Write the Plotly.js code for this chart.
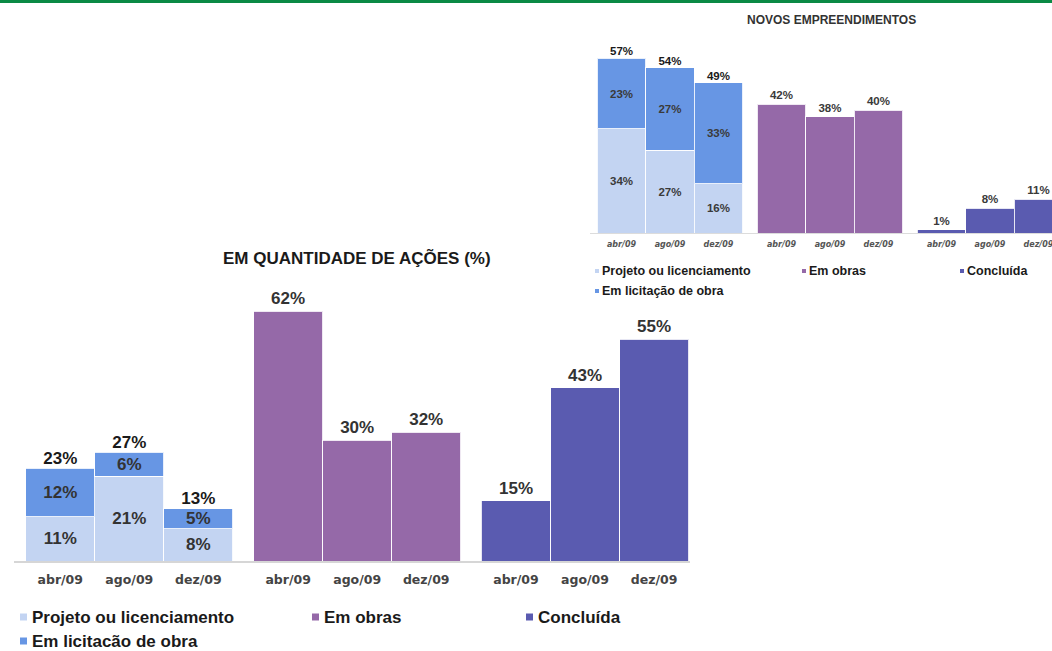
<!DOCTYPE html>
<html>
<head>
<meta charset="utf-8">
<script src="https://cdn.plot.ly/plotly-3.0.1.min.js"></script>
<style>html,body{margin:0;padding:0;background:#fff;}#chart{width:1052px;height:651px;}</style>
</head>
<body>
<div id="chart"></div>
<script>
// ---------- data ----------
var months = ["abr/09", "ago/09", "dez/09"];
var seriesNames = ["Projeto ou licenciamento", "Em obras", "Concluída", "Em licitacão de obra"];
var seriesNamesInset = ["Projeto ou licenciamento", "Em obras", "Concluída", "Em licitação de obra"];

// Main chart: EM QUANTIDADE DE AÇÕES (%)
var projetoMain = [11, 21, 8];
var licitacaoMain = [12, 6, 5];
var obrasMain = [62, 30, 32];
var concluidaMain = [15, 43, 55];

// Inset chart: NOVOS EMPREENDIMENTOS
var projetoInset = [34, 27, 16];
var licitacaoInset = [23, 27, 33];
var obrasInset = [42, 38, 40];
var concluidaInset = [1, 8, 11];

var titleMain = "EM QUANTIDADE DE AÇÕES (%)";
var titleInset = "NOVOS EMPREENDIMENTOS";

// ---------- styling ----------
var W = 1052, H = 651;
var C = {projeto: "#c3d4f2", licitacao: "#6796e4", obras: "#9569a8", concluida: "#5a5bb0"};
var GROUP_STEP = 3.3;
function px(x) { return x / W; }
function py(y) { return 1 - y / H; }
function pos(g) { return months.map(function (m, i) { return g * GROUP_STEP + i; }); }
function pct(arr) { return arr.map(function (v) { return v + "%"; }); }
function sum(a, b) { return a.map(function (v, i) { return v + b[i]; }); }

var allTickVals = pos(0).concat(pos(1), pos(2));
var allTickText = months.concat(months, months);

function makeTraces(xa, ya, proj, lic, obras, concl, fs, txtColor) {
  var barLine = {color: "rgba(255,255,255,0.85)", width: 1};
  var inFont = {family: "Liberation Sans, Arial, sans-serif", size: fs, color: txtColor, weight: 700};
  return [
    {type: "bar", x: pos(0), y: proj, width: 1, xaxis: xa, yaxis: ya,
     marker: {color: C.projeto, line: barLine}, text: pct(proj), textposition: "inside",
     insidetextanchor: "middle", constraintext: "none", textfont: inFont, hoverinfo: "skip"},
    {type: "bar", x: pos(0), y: lic, width: 1, xaxis: xa, yaxis: ya,
     marker: {color: C.licitacao, line: barLine}, text: pct(lic), textposition: "inside",
     insidetextanchor: "middle", constraintext: "none", textfont: inFont, hoverinfo: "skip"},
    {type: "bar", x: pos(1), y: obras, width: 1, xaxis: xa, yaxis: ya,
     marker: {color: C.obras, line: barLine}, text: pct(obras), textposition: "outside",
     constraintext: "none", cliponaxis: false, textfont: inFont, hoverinfo: "skip"},
    {type: "bar", x: pos(2), y: concl, width: 1, xaxis: xa, yaxis: ya,
     marker: {color: C.concluida, line: barLine}, text: pct(concl), textposition: "outside",
     constraintext: "none", cliponaxis: true, textfont: inFont, hoverinfo: "skip"},
    {type: "scatter", mode: "text", x: pos(0), y: sum(proj, lic), xaxis: xa, yaxis: ya,
     text: pct(sum(proj, lic)), textposition: "top center", cliponaxis: false,
     textfont: {family: "Liberation Sans, Arial, sans-serif", size: fs, color: "#1a1a1a", weight: 700},
     hoverinfo: "skip"}
  ];
}

var data = makeTraces("x", "y", projetoMain, licitacaoMain, obrasMain, concluidaMain, 17, "#333333")
  .concat(makeTraces("x2", "y2", projetoInset, licitacaoInset, obrasInset, concluidaInset, 11.5, "#3a3a3a"));

var legendColors = [C.projeto, C.obras, C.concluida, C.licitacao];
var shapes = [
  {type: "rect", xref: "paper", yref: "paper", x0: 0, x1: 1, y0: py(3), y1: 1,
   fillcolor: "#0b8a45", line: {width: 0}}
];
var annotations = [
  {xref: "paper", yref: "paper", x: px(357), y: py(258), xanchor: "center", yanchor: "middle",
   showarrow: false, text: titleMain,
   font: {family: "Liberation Sans, Arial, sans-serif", size: 17, color: "#1a1a1a", weight: 700}},
  {xref: "paper", yref: "paper", x: px(831), y: py(20), xanchor: "center", yanchor: "middle",
   showarrow: false, text: titleInset,
   font: {family: "Liberation Sans, Arial, sans-serif", size: 12, color: "#333", weight: 700}}
];

function addLegend(names, slots, msize, fsize) {
  names.forEach(function (n, i) {
    var s = slots[i];
    shapes.push({type: "rect", xref: "paper", yref: "paper",
      x0: px(s[0]), x1: px(s[0] + msize), y0: py(s[2] + msize / 2), y1: py(s[2] - msize / 2),
      fillcolor: legendColors[i], line: {width: 0}});
    annotations.push({xref: "paper", yref: "paper", x: px(s[1]), y: py(s[2]),
      xanchor: "left", yanchor: "middle", showarrow: false, text: n,
      font: {family: "Liberation Sans, Arial, sans-serif", size: fsize, color: "#1a1a1a", weight: 700}});
  });
}
// [markerX, textX, centerY]
addLegend(seriesNames, [[20, 30, 617], [312, 322, 617], [526, 536, 617], [20, 30, 641]], 7, 17);
addLegend(seriesNamesInset, [[595, 600, 271], [802, 807, 271], [960, 965, 271], [595, 600, 291]], 4, 12.5);

var layout = {
  width: W, height: H,
  margin: {l: 0, r: 0, t: 0, b: 0},
  paper_bgcolor: "#ffffff", plot_bgcolor: "rgba(0,0,0,0)",
  showlegend: false, barmode: "stack", bargap: 0,
  xaxis: {domain: [px(14), px(690)], range: [-0.67, 9.12], anchor: "y",
    tickmode: "array", tickvals: allTickVals, ticktext: allTickText,
    showline: true, linecolor: "#d6d6d6", linewidth: 2, showgrid: false, zeroline: false,
    ticks: "", ticklabelstandoff: 6, fixedrange: true,
    tickfont: {family: "DejaVu Sans, Verdana, sans-serif", size: 12.5, color: "#444", weight: 700}},
  yaxis: {domain: [1 - 561 / H, 1 - 279 / H], range: [0, 70], anchor: "x", visible: false, fixedrange: true},
  xaxis2: {domain: [px(590), 1], range: [-0.65, 8.88], anchor: "y2",
    tickmode: "array", tickvals: allTickVals, ticktext: allTickText,
    showline: true, linecolor: "#dcdcdc", linewidth: 1, showgrid: false, zeroline: false,
    ticks: "", ticklabelstandoff: 3, ticklabeloverflow: "allow", fixedrange: true,
    tickfont: {family: "DejaVu Sans, Verdana, sans-serif", size: 8, color: "#555", weight: 700, style: "italic"}},
  yaxis2: {domain: [1 - 233 / H, 1 - 43 / H], range: [0, 62], anchor: "x2", visible: false, fixedrange: true},
  shapes: shapes,
  annotations: annotations
};

Plotly.newPlot("chart", data, layout, {displayModeBar: false, staticPlot: true});
</script>
</body>
</html>
